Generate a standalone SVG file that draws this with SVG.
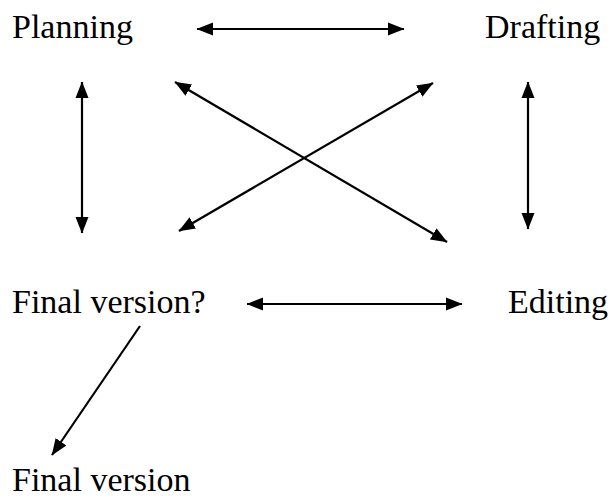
<svg xmlns="http://www.w3.org/2000/svg" width="613" height="498" viewBox="0 0 613 498">
<style>
text{font-family:"Liberation Serif","Times New Roman",serif;font-size:34px;fill:#000}
.c line{stroke:#000;stroke-width:2.2;fill:none;marker-start:url(#ah);marker-end:url(#ah)}
.c line.one{marker-start:none}
</style>
<defs>
<marker id="ah" markerUnits="userSpaceOnUse" markerWidth="17" markerHeight="14" viewBox="0 0 17 14" refX="16" refY="7" orient="auto-start-reverse">
<path d="M0,0.5 L16.5,7 L0,13.5 z" fill="#000"/>
</marker>
</defs>
<rect width="613" height="498" fill="#fff"/>
<g id="planning"><text x="12" y="38">Planning</text></g>
<g id="drafting"><text x="485" y="38">Drafting</text></g>
<g id="final-q"><text x="12" y="313">Final version?</text></g>
<g id="editing"><text x="508" y="313">Editing</text></g>
<g id="final"><text x="12" y="491">Final version</text></g>
<g class="c" id="connectors">
<line x1="197" y1="29" x2="404" y2="29"/>
<line x1="82" y1="82" x2="82" y2="233"/>
<line x1="528" y1="82" x2="528" y2="229"/>
<line x1="175" y1="82" x2="447" y2="242"/>
<line x1="433" y1="83" x2="179" y2="231"/>
<line x1="247" y1="304" x2="462" y2="304"/>
<line class="one" x1="140" y1="326" x2="52" y2="455"/>
</g>
</svg>
